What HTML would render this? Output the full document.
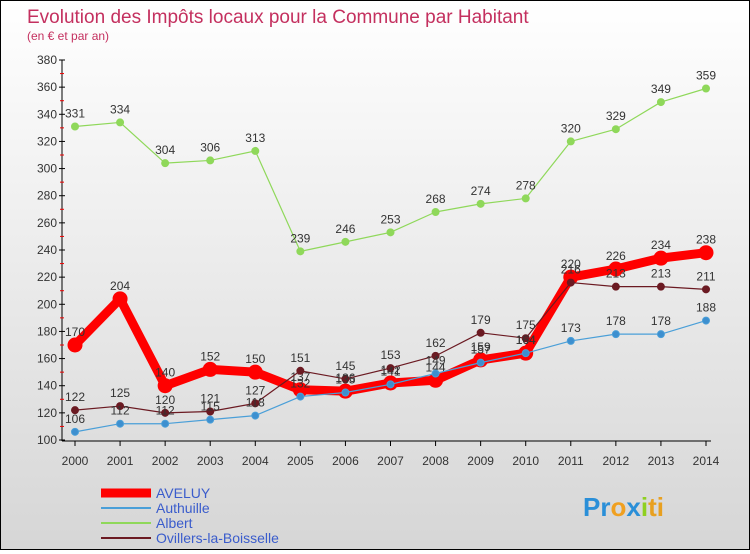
<!DOCTYPE html>
<html><head><meta charset="utf-8"><style>
body{margin:0;width:750px;height:550px;overflow:hidden;font-family:"Liberation Sans",sans-serif}
#c{position:absolute;left:0;top:0;width:748px;height:548px;border:1px solid #000;background:linear-gradient(#fff,#d6d6d6)}
</style></head><body>
<div id="c">
<svg id="s" width="748" height="548" xmlns="http://www.w3.org/2000/svg"></svg>
</div>
<script>
const years=[2000,2001,2002,2003,2004,2005,2006,2007,2008,2009,2010,2011,2012,2013,2014];
const aveluy=[170,204,140,152,150,137,136,142,144,159,164,220,226,234,238];
const authuille=[106,112,112,115,118,132,135,141,149,157,164,173,178,178,188];
const albert=[331,334,304,306,313,239,246,253,268,274,278,320,329,349,359];
const ovillers=[122,125,120,121,127,151,145,153,162,179,175,216,213,213,211];
const yTicks=[100,120,140,160,180,200,220,240,260,280,300,320,340,360,380];
const NS="http://www.w3.org/2000/svg",s=document.getElementById('s');
const X=i=>74+i*(705-74)/(years.length-1);
const Y=v=>439-(v-100)*(380/280);
function el(t,a,p){const e=document.createElementNS(NS,t);for(const k in a)e.setAttribute(k,a[k]);(p||s).appendChild(e);return e;}
let t=el('text',{x:26,y:22,fill:'#c4305f','font-size':19});t.textContent='Evolution des Impôts locaux pour la Commune par Habitant';

t=el('text',{x:26,y:39,fill:'#c4305f','font-size':12});t.textContent='(en € et par an)';

let ax=el('line',{x1:61,y1:59,x2:61,y2:440,stroke:'#000'});

ax=el('line',{x1:61,y1:440,x2:710,y2:440,stroke:'#000'});

yTicks.forEach((v,i)=>{el('line',{x1:58,x2:64,y1:Y(v),y2:Y(v),stroke:'#000'});
 if(i<yTicks.length-1)el('line',{x1:59,x2:63,y1:Y(v+10),y2:Y(v+10),stroke:'#e00'});
 const l=el('text',{x:56,y:Y(v)+4,'text-anchor':'end','font-size':12,fill:'#333'});l.textContent=v;
 });
years.forEach((y,i)=>{el('line',{x1:X(i),x2:X(i),y1:440,y2:445,stroke:'#000'});
 const l=el('text',{x:X(i),y:464,'text-anchor':'middle','font-size':12,fill:'#333'});l.textContent=y;
 });
function series(d,col,w,r,dot,name){const g=el('g',{});
 
 el('polyline',{points:d.map((v,i)=>X(i)+','+Y(v)).join(' '),fill:'none',stroke:col,'stroke-width':w,'stroke-linejoin':'round'},g);
 d.forEach((v,i)=>{const c=el('circle',{cx:X(i),cy:Y(v),r:r,fill:dot,stroke:col,'stroke-width':1},g);
  
  const l=el('text',{x:X(i),y:Y(v)-9,'text-anchor':'middle','font-size':12,fill:'#333'},g);l.textContent=v;});}
series(albert,'#8fd85a',1.2,3.5,'#8fd85a','series-albert');
series(aveluy,'#f00',9,7,'#f00','series-aveluy');
series(ovillers,'#6b1a22',1.2,3.5,'#6b1a22','series-ovillers');
series(authuille,'#4a9fd8',1.2,3.5,'#3d8fcf','series-authuille');
const leg=[['AVELUY','#f00',9],['Authuille','#4a9fd8',2],['Albert','#8fd85a',2],['Ovillers-la-Boisselle','#6b1a22',2]];
leg.forEach((l,i)=>{const g=el('g',{});
 const y=492+i*15;el('line',{x1:100,x2:150,y1:y,y2:y,stroke:l[1],'stroke-width':l[2]},g);
 const t=el('text',{x:155,y:y+5,'font-size':14,fill:'#3a5ccc'},g);t.textContent=l[0];});
const lg=el('text',{x:582,y:515,'font-size':26,'font-weight':'bold','font-family':'Liberation Sans,sans-serif'});

[['Pr','#2a8fd8'],['o','#f0a020'],['x','#2a8fd8'],['i','#8fd020'],['ti','#e8a020']].forEach(p=>{const ts=el('tspan',{fill:p[1]},lg);ts.textContent=p[0];});
</script>
</body></html>
